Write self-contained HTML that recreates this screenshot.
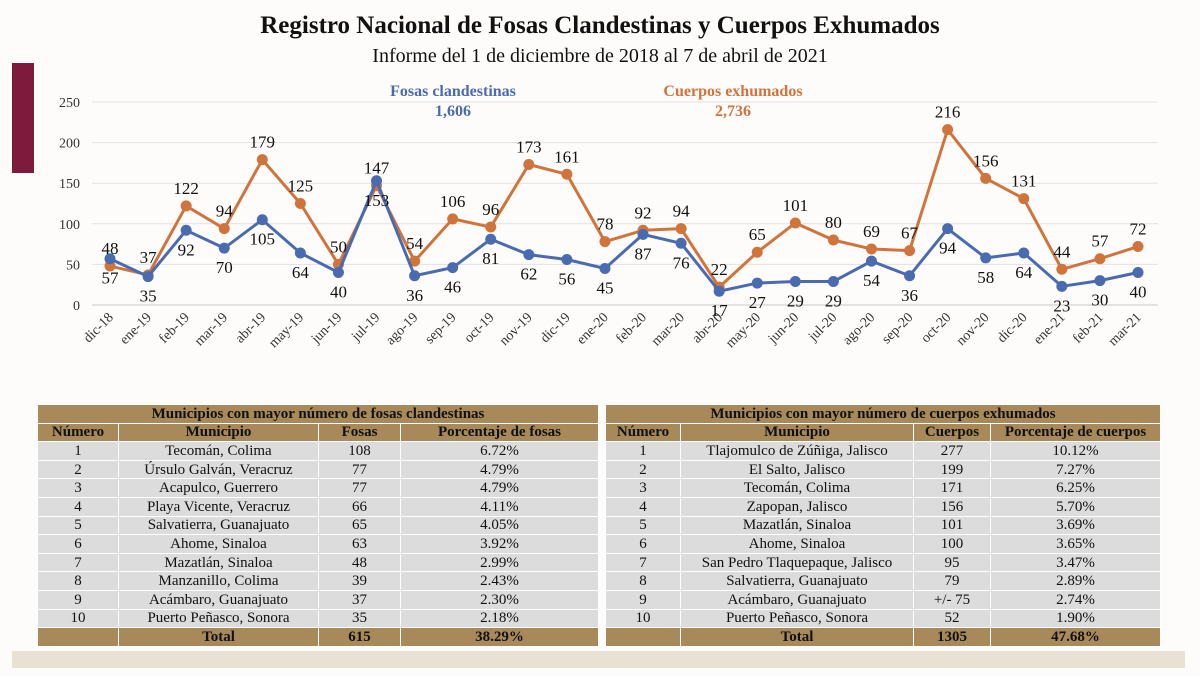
<!DOCTYPE html>
<html><head><meta charset="utf-8"><style>
body{margin:0;width:1200px;height:676px;background:#fdfcfa;position:relative;overflow:hidden;font-family:"Liberation Serif",serif;}
.abs{position:absolute;}
table{position:absolute;border-collapse:collapse;font-family:"Liberation Serif",serif;font-size:15px;color:#111;table-layout:fixed;}
td{border:1.5px solid #fff;text-align:center;padding:0;height:17.6px;background:#dcdcdc;line-height:16px;}
tr.h td{background:#a8895a;font-weight:bold;}
</style></head><body>
<div class="abs" style="left:12px;top:63px;width:22px;height:110px;background:#7e1a3c"></div>
<div class="abs" style="left:0;width:1200px;top:12px;text-align:center;font-size:25px;font-weight:bold;color:#111">Registro Nacional de Fosas Clandestinas y Cuerpos Exhumados</div>
<div class="abs" style="left:0;width:1200px;top:45px;text-align:center;font-size:20px;color:#111">Informe del 1 de diciembre de 2018 al 7 de abril de 2021</div>
<svg class="abs" style="left:0;top:0" width="1200" height="400">
<g id="grid"></g><g id="series"></g><g id="labels"></g>
<text x="453" y="96" text-anchor="middle" font-weight="bold" font-size="16" fill="#4a6bb0">Fosas clandestinas</text>
<text x="453" y="116" text-anchor="middle" font-weight="bold" font-size="16" fill="#4a6bb0">1,606</text>
<text x="733" y="96" text-anchor="middle" font-weight="bold" font-size="16" fill="#d0743c">Cuerpos exhumados</text>
<text x="733" y="116" text-anchor="middle" font-weight="bold" font-size="16" fill="#d0743c">2,736</text>
</svg>
<table style="left:37px;top:404px;width:561px">
<colgroup><col style="width:81px"><col style="width:200px"><col style="width:82px"><col style="width:198px"></colgroup>
<tr class="h"><td colspan="4">Municipios con mayor número de fosas clandestinas</td></tr>
<tr class="h"><td>Número</td><td>Municipio</td><td>Fosas</td><td>Porcentaje de fosas</td></tr>
<tr><td>1</td><td>Tecomán, Colima</td><td>108</td><td>6.72%</td></tr>
<tr><td>2</td><td>Úrsulo Galván, Veracruz</td><td>77</td><td>4.79%</td></tr>
<tr><td>3</td><td>Acapulco, Guerrero</td><td>77</td><td>4.79%</td></tr>
<tr><td>4</td><td>Playa Vicente, Veracruz</td><td>66</td><td>4.11%</td></tr>
<tr><td>5</td><td>Salvatierra, Guanajuato</td><td>65</td><td>4.05%</td></tr>
<tr><td>6</td><td>Ahome, Sinaloa</td><td>63</td><td>3.92%</td></tr>
<tr><td>7</td><td>Mazatlán, Sinaloa</td><td>48</td><td>2.99%</td></tr>
<tr><td>8</td><td>Manzanillo, Colima</td><td>39</td><td>2.43%</td></tr>
<tr><td>9</td><td>Acámbaro, Guanajuato</td><td>37</td><td>2.30%</td></tr>
<tr><td>10</td><td>Puerto Peñasco, Sonora</td><td>35</td><td>2.18%</td></tr>
<tr class="h"><td></td><td>Total</td><td>615</td><td>38.29%</td></tr>
</table>
<table style="left:605px;top:404px;width:555px">
<colgroup><col style="width:75px"><col style="width:233px"><col style="width:77px"><col style="width:170px"></colgroup>
<tr class="h"><td colspan="4">Municipios con mayor número de cuerpos exhumados</td></tr>
<tr class="h"><td>Número</td><td>Municipio</td><td>Cuerpos</td><td>Porcentaje de cuerpos</td></tr>
<tr><td>1</td><td>Tlajomulco de Zúñiga, Jalisco</td><td>277</td><td>10.12%</td></tr>
<tr><td>2</td><td>El Salto, Jalisco</td><td>199</td><td>7.27%</td></tr>
<tr><td>3</td><td>Tecomán, Colima</td><td>171</td><td>6.25%</td></tr>
<tr><td>4</td><td>Zapopan, Jalisco</td><td>156</td><td>5.70%</td></tr>
<tr><td>5</td><td>Mazatlán, Sinaloa</td><td>101</td><td>3.69%</td></tr>
<tr><td>6</td><td>Ahome, Sinaloa</td><td>100</td><td>3.65%</td></tr>
<tr><td>7</td><td>San Pedro Tlaquepaque, Jalisco</td><td>95</td><td>3.47%</td></tr>
<tr><td>8</td><td>Salvatierra, Guanajuato</td><td>79</td><td>2.89%</td></tr>
<tr><td>9</td><td>Acámbaro, Guanajuato</td><td>+/- 75</td><td>2.74%</td></tr>
<tr><td>10</td><td>Puerto Peñasco, Sonora</td><td>52</td><td>1.90%</td></tr>
<tr class="h"><td></td><td>Total</td><td>1305</td><td>47.68%</td></tr>
</table>
<div class="abs" style="left:12px;top:651px;width:1173px;height:17px;background:#e9e1d3"></div>
<script>
const categories=["dic-18","ene-19","feb-19","mar-19","abr-19","may-19","jun-19","jul-19","ago-19","sep-19","oct-19","nov-19","dic-19","ene-20","feb-20","mar-20","abr-20","may-20","jun-20","jul-20","ago-20","sep-20","oct-20","nov-20","dic-20","ene-21","feb-21","mar-21"];
const fosas=[57,35,92,70,105,64,40,153,36,46,81,62,56,45,87,76,17,27,29,29,54,36,94,58,64,23,30,40];
const cuerpos=[48,37,122,94,179,125,50,147,54,106,96,173,161,78,92,94,22,65,101,80,69,67,216,156,131,44,57,72];
const yTicks=[0,50,100,150,200,250];
const NS="http://www.w3.org/2000/svg";
const x=i=>110+i*(1138-110)/(categories.length-1);
const y=v=>305-v*(305-102)/250;
function mk(t,a,p){const e=document.createElementNS(NS,t);for(const k in a)e.setAttribute(k,a[k]);p.appendChild(e);return e;}
const grid=document.getElementById('grid'),ser=document.getElementById('series'),lab=document.getElementById('labels');
yTicks.forEach(v=>{
 const l=mk('line',{x1:92,x2:1158,y1:y(v),y2:y(v),stroke:v===0?'#c8c8c8':'#e2e2e2','stroke-width':1},grid);
 
 
 const t=mk('text',{x:80,y:y(v)+5,'text-anchor':'end','font-size':14,fill:'#333'},grid);t.textContent=v;
 
 
});
categories.forEach((c,i)=>{
 const t=mk('text',{x:x(i)+4,y:318,'text-anchor':'end','font-size':14,fill:'#333',transform:`rotate(-45 ${x(i)+4} 318)`},grid);t.textContent=c;
 
 
});
function series(d,col,name,above){
 const p=mk('polyline',{points:d.map((v,i)=>x(i)+','+y(v)).join(' '),fill:'none',stroke:col,'stroke-width':3},ser);
 
 
 d.forEach((v,i)=>{
  const c=mk('circle',{cx:x(i),cy:y(v),r:5.5,fill:col},ser);
  
  
  const t=mk('text',{x:x(i),y:above?y(v)-12:y(v)+25,'text-anchor':'middle','font-size':17,fill:'#111'},lab);t.textContent=v;
  
  
 });
}
series(cuerpos,'#d0743c','cuerpos',true);
series(fosas,'#4a6bb0','fosas',false);
</script>
</body></html>
